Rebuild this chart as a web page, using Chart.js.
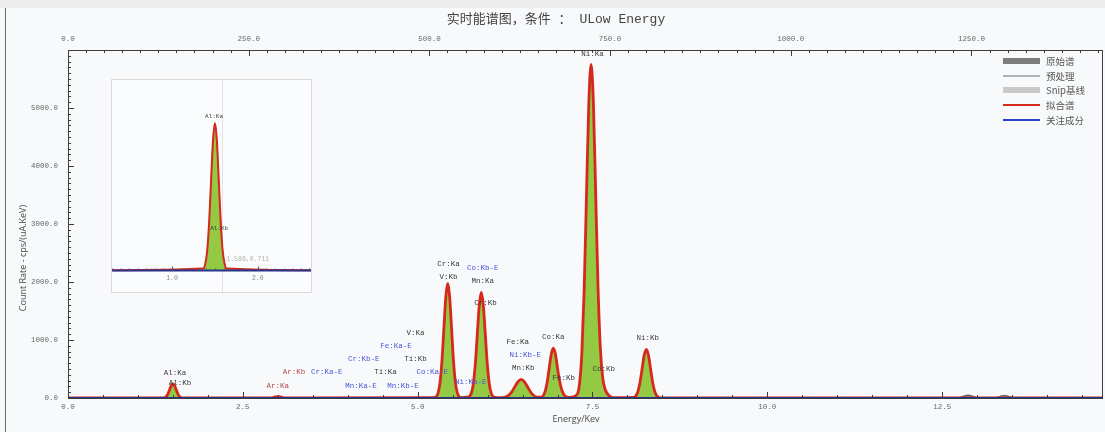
<!DOCTYPE html>
<html>
<head>
<meta charset="utf-8">
<title>实时能谱图</title>
<script src="https://cdn.jsdelivr.net/npm/chart.js@4.4.1/dist/chart.umd.min.js"></script>
<style>
  html, body { margin: 0; padding: 0; background: #f7f9fb; }
  #wrap { position: relative; width: 1105px; height: 432px; overflow: hidden; }
  #topband { position: absolute; left: 0; top: 0; width: 1105px; height: 8px; background: #ececec; }
  #frame { position: absolute; left: 5px; top: 8px; width: 1px; height: 424px; background: #6a6a6a; }
  #mainChart { position: absolute; left: 0; top: 0; }
  #insetBox { position: absolute; left: 111px; top: 79px; width: 201px; height: 214px;
              border: 1px solid #dadada; background: #fbfcfd; box-sizing: border-box; }
  #insetChart { display: block; }
</style>
</head>
<body>
<div id="wrap">
  <div id="topband"></div>
  <div id="frame"></div>
  <canvas id="mainChart" width="1105" height="432"></canvas>
  <div id="insetBox"><canvas id="insetChart" width="199" height="212"></canvas></div>
</div>
<script>
// fitted spectrum (拟合谱), energy in keV, counts in cps/(uA.keV)
const fitEnergy = [0.00, 1.365, 1.3875, 1.41, 1.4325, 1.455, 1.4775, 1.50, 1.5225, 1.545, 1.5675, 1.59, 1.6125, 1.635,
    2.90, 2.95, 3.00, 3.05, 3.10,
    5.22, 5.265, 5.2925, 5.32, 5.3475, 5.375, 5.4025, 5.43, 5.4575, 5.485, 5.5125, 5.54, 5.5675, 5.595, 5.63, 5.68,
    5.739, 5.7675, 5.796, 5.8245, 5.853, 5.8815, 5.91, 5.9385, 5.967, 5.9955, 6.024, 6.0525, 6.081, 6.12,
    6.21, 6.255, 6.30, 6.345, 6.39, 6.435, 6.48, 6.525, 6.57, 6.615, 6.66, 6.705,
    6.766, 6.795, 6.824, 6.853, 6.882, 6.911, 6.94, 6.969, 6.998, 7.027, 7.056, 7.085, 7.114, 7.15, 7.20,
    7.282, 7.315, 7.348, 7.381, 7.414, 7.447, 7.48, 7.513, 7.546, 7.579, 7.612, 7.645, 7.678, 7.711, 7.75, 7.80,
    8.09, 8.12, 8.15, 8.18, 8.21, 8.24, 8.27, 8.30, 8.33, 8.36, 8.39, 8.42, 8.45, 8.50, 14.80];
const fitCounts = [0, 3, 11, 33, 80, 149, 216, 245, 216, 149, 80, 33, 11, 3,
    0, 15, 25, 15, 0,
    5, 22, 87, 267, 641, 1198, 1743, 1975, 1743, 1198, 641, 267, 87, 22, 8, 12,
    30, 82, 246, 591, 1104, 1606, 1820, 1606, 1104, 591, 246, 80, 22, 8,
    6, 16, 45, 106, 196, 283, 320, 282, 194, 104, 43, 16,
    14, 40, 117, 280, 522, 759, 860, 762, 530, 309, 156, 71, 28, 10, 15,
    64, 252, 778, 1867, 3487, 5074, 5750, 5082, 3511, 1922, 868, 361, 163, 77, 27, 5,
    9, 37, 114, 273, 509, 741, 840, 741, 509, 273, 114, 37, 9, 0, 0];

// small pile-up bumps only seen in the raw spectrum (原始谱)
const pileEnergy = [12.72, 12.80, 12.87, 12.94, 13.02, 13.25, 13.32, 13.39, 13.46, 13.53];
const pileCounts = [0, 30, 50, 30, 0, 0, 25, 45, 25, 0];

// Snip baseline and focus component sit on zero
const snipEnergy = [0.0, 14.8];
const snipCounts = [0, 0];
const focusEnergy = [0.0, 14.8];
const focusCounts = [0, 0];

// legend names
const seriesNames = ['原始谱', '预处理', 'Snip基线', '拟合谱', '关注成分'];

// peak labels: text, energy (keV), count level
const peakLabels = ['Al:Ka', 'Al:Kb', 'Ar:Kb', 'Ar:Ka', 'Cr:Ka-E', 'Cr:Kb-E', 'Fe:Ka-E', 'V:Ka', 'Ti:Kb', 'Ti:Ka',
    'Co:Ka-E', 'Mn:Ka-E', 'Mn:Kb-E', 'Cr:Ka', 'V:Kb', 'Co:Kb-E', 'Mn:Ka', 'Cr:Kb', 'Ni:Ka-E', 'Fe:Ka',
    'Ni:Kb-E', 'Mn:Kb', 'Co:Ka', 'Fe:Kb', 'Co:Kb', 'Ni:Kb', 'Ni:Ka'];
const labelEnergy = [1.53, 1.60, 3.23, 3.00, 3.70, 4.23, 4.69, 4.97, 4.97, 4.54,
    5.21, 4.19, 4.79, 5.44, 5.44, 5.93, 5.93, 5.97, 5.76, 6.43,
    6.54, 6.51, 6.94, 7.09, 7.66, 8.29, 7.50];
const labelCounts = [430, 258, 447, 206, 447, 670, 893, 1117, 670, 447,
    447, 206, 206, 2302, 2079, 2233, 2010, 1632, 275, 962,
    739, 515, 1048, 344, 498, 1031, 5927];

// inset (zoom on the Al region)
const insetLabels = ['Al:Ka', 'Al:Kb'];
const insetLabelEnergy = [1.49, 1.55];
const insetLabelCounts = [257, 70];
const cursorEnergy = 1.586;
const cursorCounts = 0.711;

// tick labels
const energyTickStep = 2.5;
const channelTickStep = 250;
const countTickStep = 1000;

function toPoints(xs, ys) {
    return xs.map((x, i) => ({ x: x, y: ys[i] }));
}

const fitPoints = toPoints(fitEnergy, fitCounts);
const rawPoints = fitPoints.filter(p => p.x < 14).concat(toPoints(pileEnergy, pileCounts))
    .concat([{ x: 14.8, y: 0 }]).sort((a, b) => a.x - b.x);
const snipPoints = toPoints(snipEnergy, snipCounts);
const focusPoints = toPoints(focusEnergy, focusCounts);

const monoFont = "'Liberation Mono', 'DejaVu Sans Mono', monospace";
const cjkFont = "'Noto Sans CJK SC', sans-serif";

function labelColor(text) {
    if (text.endsWith('-E')) return '#4a55d8';
    if (text.startsWith('Ar')) return '#b24a44';
    return '#3a3a3a';
}

const mainDecor = {
    id: 'mainDecor',
    afterDraw(chart) {
        const ctx = chart.ctx;
        const area = chart.chartArea;
        const x = chart.scales.x, x2 = chart.scales.x2, y = chart.scales.y;
        ctx.save();

        // frame
        ctx.strokeStyle = '#3c3c3c';
        ctx.lineWidth = 1;
        ctx.strokeRect(area.left + 0.5, area.top + 0.5, area.right - area.left - 1, area.bottom - area.top);

        // inward tick marks
        ctx.beginPath();
        for (let i = 0; i * 100 < y.max; i++) {
            const py = Math.round(y.getPixelForValue(i * 100)) + 0.5;
            const len = i % 10 === 0 ? 6 : 3;
            ctx.moveTo(area.left, py);
            ctx.lineTo(area.left + len, py);
        }
        for (let i = 0; i * 0.5 <= x.max; i++) {
            const px = Math.round(x.getPixelForValue(i * 0.5)) + 0.5;
            const len = i % 5 === 0 ? 6 : 3;
            ctx.moveTo(px, area.bottom);
            ctx.lineTo(px, area.bottom - len);
        }
        for (let i = 0; i * 25 <= x2.max; i++) {
            const px = Math.round(x2.getPixelForValue(i * 25)) + 0.5;
            const len = i % 10 === 0 ? 6 : 3;
            ctx.moveTo(px, area.top);
            ctx.lineTo(px, area.top + len);
        }
        ctx.stroke();

        // peak labels
        ctx.font = '7.5px ' + monoFont;
        ctx.textAlign = 'center';
        ctx.textBaseline = 'middle';
        peakLabels.forEach((t, i) => {
            ctx.fillStyle = labelColor(t);
            ctx.fillText(t, x.getPixelForValue(labelEnergy[i]), y.getPixelForValue(labelCounts[i]));
        });

        // title
        ctx.fillStyle = '#444';
        ctx.font = "13px 'Liberation Mono', 'Noto Sans CJK SC', monospace";
        ctx.fillText('实时能谱图，条件 ： ULow Energy', 556, 20);

        // axis titles
        ctx.font = "9px 'Open Sans', sans-serif";
        ctx.fillStyle = '#4a4a4a';
        ctx.fillText('Energy/Kev', 576, 419);
        ctx.save();
        ctx.translate(23, 258);
        ctx.rotate(-Math.PI / 2);
        ctx.fillText('Count Rate - cps/(uA.KeV)', 0, 0);
        ctx.restore();

        // legend
        const lx0 = 1003, lx1 = 1040;
        const rows = [61, 76, 90, 105, 120];
        rows.forEach((ry, i) => {
            if (i === 0 || i === 2) {
                ctx.fillStyle = i === 0 ? '#7d7d7d' : '#c9c9c9';
                ctx.fillRect(lx0, ry - 3, lx1 - lx0, 6);
            } else {
                ctx.strokeStyle = i === 1 ? '#6a6a6a' : (i === 3 ? '#d6281c' : '#2f3fd0');
                ctx.lineWidth = i === 1 ? 1 : 2;
                ctx.beginPath();
                ctx.moveTo(lx0, ry);
                ctx.lineTo(lx1, ry);
                ctx.stroke();
            }
            ctx.fillStyle = '#555';
            ctx.font = '9.5px ' + cjkFont;
            ctx.textAlign = 'left';
            ctx.fillText(seriesNames[i], 1046, ry);
        });
        ctx.restore();
    }
};

const tickFont = { family: monoFont, size: 7.5 };

new Chart(document.getElementById('mainChart'), {
    type: 'line',
    data: {
        datasets: [
            { label: seriesNames[4], data: focusPoints, borderColor: '#26338e', borderWidth: 2, fill: false, order: 0 },
            { label: seriesNames[3], data: fitPoints, borderColor: '#d6281c', borderWidth: 2.8,
              backgroundColor: '#93c943', fill: 'origin', order: 1 },
            { label: seriesNames[2], data: snipPoints, borderColor: '#c9c9c9', borderWidth: 1,
              backgroundColor: 'rgba(201,201,201,0.8)', fill: 'origin', order: 2 },
            { label: seriesNames[1], data: rawPoints, borderColor: '#6a6a6a', borderWidth: 1, fill: false, order: 3 },
            { label: seriesNames[0], data: rawPoints, borderColor: '#6d6d6d', borderWidth: 1,
              backgroundColor: '#858585', fill: 'origin', order: 4 }
        ]
    },
    options: {
        responsive: false,
        animation: false,
        layout: { padding: { left: 0, right: 2, top: 0, bottom: 0 } },
        elements: {
            point: { radius: 0 },
            line: { cubicInterpolationMode: 'monotone' }
        },
        scales: {
            x: {
                type: 'linear', position: 'bottom', min: 0, max: 14.8,
                grid: { display: false, drawTicks: false }, border: { display: false },
                ticks: { stepSize: energyTickStep, includeBounds: false, padding: 5, color: '#666',
                         font: tickFont, maxRotation: 0, autoSkip: false, callback: v => v.toFixed(1) },
                afterFit(s) { s.height = 34; }
            },
            x2: {
                type: 'linear', axis: 'x', position: 'top', min: 0, max: 1432,
                grid: { display: false, drawTicks: false }, border: { display: false },
                ticks: { stepSize: channelTickStep, includeBounds: false, padding: 6, color: '#666',
                         font: tickFont, maxRotation: 0, autoSkip: false, callback: v => v.toFixed(1) },
                afterFit(s) { s.height = 50; }
            },
            y: {
                min: 0, max: 6000,
                grid: { display: false, drawTicks: false }, border: { display: false },
                ticks: { stepSize: countTickStep, padding: 10, color: '#666', font: tickFont,
                         callback: v => (v >= 6000 ? '' : v.toFixed(1)) },
                afterFit(s) { s.width = 68; }
            }
        },
        plugins: { legend: { display: false }, tooltip: { enabled: false } }
    },
    plugins: [mainDecor]
});

const insetDecor = {
    id: 'insetDecor',
    beforeDatasetsDraw(chart) {
        const ctx = chart.ctx, x = chart.scales.x, area = chart.chartArea;
        ctx.save();
        ctx.strokeStyle = '#e2e2e2';
        ctx.lineWidth = 1;
        const px = Math.round(x.getPixelForValue(cursorEnergy)) + 0.5;
        ctx.beginPath();
        ctx.moveTo(px, area.top);
        ctx.lineTo(px, area.bottom);
        ctx.stroke();
        ctx.restore();
    },
    afterDraw(chart) {
        const ctx = chart.ctx, x = chart.scales.x, y = chart.scales.y;
        const base = Math.round(y.getPixelForValue(0)) + 0.5;
        ctx.save();
        ctx.strokeStyle = '#4a4f7a';
        ctx.lineWidth = 1;
        ctx.beginPath();
        for (let i = 3; i * 0.1 <= x.max; i++) {
            const px = Math.round(x.getPixelForValue(i * 0.1)) + 0.5;
            const len = i % 10 === 0 ? 4 : 2;
            ctx.moveTo(px, base);
            ctx.lineTo(px, base - len);
        }
        ctx.stroke();
        ctx.font = '6.5px ' + monoFont;
        ctx.textAlign = 'center';
        ctx.textBaseline = 'middle';
        ctx.fillStyle = '#888';
        [1.0, 2.0].forEach(v => ctx.fillText(v.toFixed(1), x.getPixelForValue(v), base + 8));
        ctx.fillStyle = '#3a3a3a';
        ctx.font = '6px ' + monoFont;
        insetLabels.forEach((t, i) => {
            ctx.fillText(t, x.getPixelForValue(insetLabelEnergy[i]), y.getPixelForValue(insetLabelCounts[i]));
        });
        ctx.fillStyle = '#b0b0b0';
        ctx.textAlign = 'left';
        ctx.font = '6.5px ' + monoFont;
        ctx.fillText(cursorEnergy.toFixed(3) + ',' + cursorCounts.toFixed(3),
            x.getPixelForValue(cursorEnergy) + 4, y.getPixelForValue(18));
        ctx.restore();
    }
};

new Chart(document.getElementById('insetChart'), {
    type: 'line',
    data: {
        datasets: [
            { data: focusPoints, borderColor: '#26338e', borderWidth: 2, fill: false, order: 0 },
            { data: fitPoints, borderColor: '#d6281c', borderWidth: 2, backgroundColor: '#93c943', fill: 'origin', order: 1 },
            { data: rawPoints, borderColor: '#6d6d6d', borderWidth: 1, backgroundColor: '#858585', fill: 'origin', order: 2 }
        ]
    },
    options: {
        responsive: false,
        animation: false,
        layout: { padding: 0 },
        elements: {
            point: { radius: 0 },
            line: { cubicInterpolationMode: 'monotone' }
        },
        scales: {
            x: { type: 'linear', display: false, min: 0.3, max: 2.62 },
            y: { display: false, min: -36, max: 317 }
        },
        plugins: { legend: { display: false }, tooltip: { enabled: false } }
    },
    plugins: [insetDecor]
});
</script>
</body>
</html>
